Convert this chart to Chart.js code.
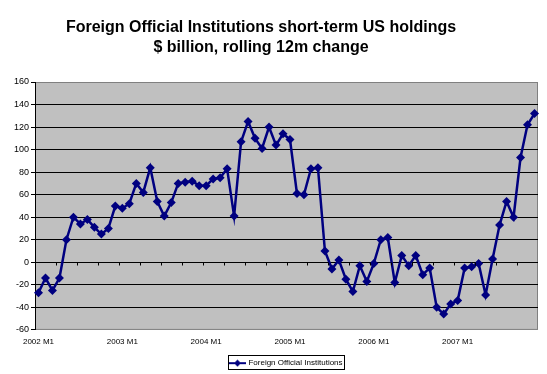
<!DOCTYPE html>
<html>
<head>
<meta charset="utf-8">
<script src="https://cdn.jsdelivr.net/npm/chart.js@4.4.1/dist/chart.umd.min.js"></script>
<style>
    html, body { margin: 0; padding: 0; background: #ffffff; }
    #wrap { width: 547px; height: 374px; position: relative; }
</style>
</head>
<body>
<div id="wrap"><canvas id="chart" width="547" height="374"></canvas></div>
<script>
(function () {
    'use strict';

    var titleLines = ['Foreign Official Institutions short-term US holdings', '$ billion, rolling 12m change'];
    var seriesName = 'Foreign Official Institutions';
    var years = [2002, 2003, 2004, 2005, 2006, 2007];
    var months = ['M1', 'M2', 'M3', 'M4', 'M5', 'M6', 'M7', 'M8', 'M9', 'M10', 'M11', 'M12'];
    var yTicks = { min: -60, max: 160, step: 20 };

    // monthly values, 2002 M1 .. 2007 M12
    var holdings = [
        -27, -14, -25, -14, 20, 40, 34, 38, 31, 25, 30, 50,
        48, 52, 70, 62, 84, 54, 41, 53, 70, 71, 72, 68,
        68, 74, 75, 83, 41, 107, 125, 110, 101, 120, 104, 114,
        109, 61, 60, 83, 84, 10, -6, 2, -15, -26, -3, -17,
        -1, 20, 22, -18, 6, -3, 6, -11, -5, -40, -46, -37,
        -34, -5, -4, -1, -29, 3, 33, 54, 40, 93, 122, 132
    ];

    var labels = [];
    years.forEach(function (y) {
        months.forEach(function (m) {
            labels.push(y + ' ' + m);
        });
    });

    var font = 'Liberation Sans, Arial, sans-serif';
    var navy = '#000080';
    var legendFontSize = 8;

    // small line + diamond image for the legend entry
    function legendSwatch() {
        var c = document.createElement('canvas');
        c.width = 17;
        c.height = 8;
        var g = c.getContext('2d');
        g.strokeStyle = navy;
        g.lineWidth = 2;
        g.beginPath();
        g.moveTo(0, 4);
        g.lineTo(17, 4);
        g.stroke();
        g.fillStyle = navy;
        g.beginPath();
        g.moveTo(8.5, 0.5);
        g.lineTo(12, 4);
        g.lineTo(8.5, 7.5);
        g.lineTo(5, 4);
        g.closePath();
        g.fill();
        return c;
    }

    var plotArea = {
        id: 'plotArea',
        afterUpdate: function (chart) {
            // legend centred under the plot area, title a touch left, as in the Excel original
            var a = chart.chartArea;
            var lg = chart.legend;
            if (lg) {
                var dx = (a.left + a.right) / 2 - (lg.left + lg.right) / 2;
                var dy = (a.bottom + 36) - (lg.top + lg.bottom) / 2;
                lg.left += dx;
                lg.right += dx;
                lg.top += dy;
                lg.bottom += dy;
            }
            var t = chart.titleBlock;
            if (t) {
                t.left -= 8;
                t.right -= 8;
            }
        },
        beforeDraw: function (chart) {
            var a = chart.chartArea;
            var ctx = chart.ctx;
            ctx.save();
            ctx.fillStyle = '#c0c0c0';
            ctx.fillRect(a.left, a.top, a.right - a.left, a.bottom - a.top);
            ctx.strokeStyle = '#808080';
            ctx.lineWidth = 1;
            ctx.strokeRect(a.left + 0.5, a.top + 0.5, a.right - a.left - 1, a.bottom - a.top - 1);
            ctx.restore();
        },
        afterDraw: function (chart) {
            var a = chart.chartArea;
            var ctx = chart.ctx;
            var y0 = Math.round(chart.scales.y.getPixelForValue(0)) + 0.5;
            var step = (a.right - a.left) / labels.length;
            ctx.save();
            ctx.strokeStyle = '#000000';
            ctx.lineWidth = 1;
            ctx.beginPath();
            for (var k = 3; k < labels.length; k += 3) {
                var x = Math.round(a.left + k * step) + 0.5;
                ctx.moveTo(x, y0);
                ctx.lineTo(x, y0 + 3);
            }
            ctx.stroke();

            // Excel-style frame round the legend entry
            var lg = chart.legend;
            if (lg) {
                ctx.font = legendFontSize + 'px ' + font;
                var w = 14 + legendFontSize / 2 + ctx.measureText(seriesName).width;
                var cx = (lg.left + lg.right) / 2;
                var cy = Math.round((lg.top + lg.bottom) / 2) - 3;
                var x0 = Math.round(cx - w / 2) - 1.5;
                var x1 = Math.round(cx + w / 2) + 1.5;
                ctx.strokeRect(x0, cy - 7.5, x1 - x0, 14);
            }
            ctx.restore();
        }
    };

    var swatch = legendSwatch();

    new Chart(document.getElementById('chart'), {
        type: 'line',
        data: {
            labels: labels,
            datasets: [{
                label: seriesName,
                data: holdings,
                borderColor: navy,
                backgroundColor: navy,
                borderWidth: 2.5,
                pointStyle: 'rectRot',
                pointRadius: 4.5,
                pointBorderWidth: 0,
                pointBackgroundColor: navy,
                tension: 0
            }]
        },
        options: {
            responsive: false,
            animation: false,
            devicePixelRatio: 1,
            layout: { padding: { left: 0, right: 9, top: 0, bottom: -2 } },
            plugins: {
                title: {
                    display: true,
                    text: titleLines,
                    color: '#000000',
                    font: { family: font, size: 16, weight: 'bold', lineHeight: 1.25 },
                    padding: { top: 18, bottom: 24 }
                },
                legend: {
                    display: true,
                    position: 'bottom',
                    labels: {
                        color: '#000000',
                        font: { family: font, size: legendFontSize },
                        usePointStyle: true,
                        pointStyleWidth: 14,
                        boxHeight: 8,
                        padding: 4.5,
                        generateLabels: function () {
                            return [{
                                text: seriesName,
                                pointStyle: swatch,
                                fillStyle: navy,
                                strokeStyle: navy,
                                lineWidth: 0,
                                datasetIndex: 0
                            }];
                        }
                    }
                },
                tooltip: { enabled: false }
            },
            scales: {
                x: {
                    type: 'category',
                    offset: true,
                    grid: { display: false, drawTicks: false },
                    border: { display: false },
                    ticks: {
                        autoSkip: false,
                        maxRotation: 0,
                        minRotation: 0,
                        padding: 7,
                        color: '#000000',
                        font: { family: font, size: 8 },
                        callback: function (value, index) {
                            return index % 12 === 0 ? labels[index] : '';
                        }
                    }
                },
                y: {
                    min: yTicks.min,
                    max: yTicks.max,
                    afterFit: function (scale) {
                        scale.width = 35;
                    },
                    border: { display: true, color: '#000000', width: 1 },
                    grid: {
                        color: function (ctx) {
                            var v = ctx.tick && ctx.tick.value;
                            return (v === yTicks.min || v === yTicks.max) ? 'rgba(0,0,0,0)' : '#000000';
                        },
                        tickColor: '#000000',
                        tickLength: 4,
                        lineWidth: 1
                    },
                    ticks: {
                        stepSize: yTicks.step,
                        padding: 2,
                        color: '#000000',
                        font: { family: font, size: 9 }
                    }
                }
            }
        },
        plugins: [plotArea]
    });
})();
</script>
</body>
</html>
